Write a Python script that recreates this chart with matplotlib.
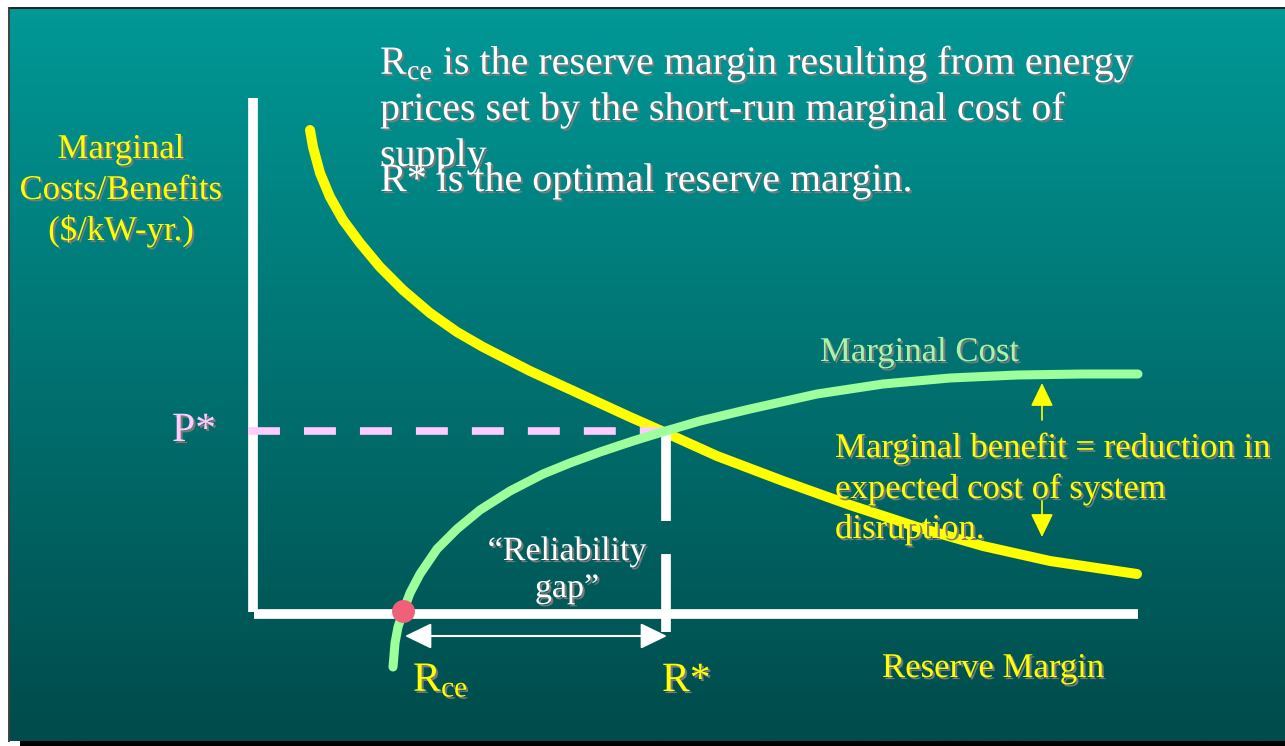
import numpy as np
import matplotlib.pyplot as plt
import matplotlib.patheffects as pe
from matplotlib.colors import LinearSegmentedColormap
from matplotlib.patches import Rectangle

plt.rcParams['font.family'] = ['Liberation Serif', 'DejaVu Serif']
plt.rcParams['mathtext.fontset'] = 'custom'
plt.rcParams['mathtext.rm'] = 'Liberation Serif'
plt.rcParams['mathtext.it'] = 'Liberation Serif:italic'
plt.rcParams['lines.scale_dashes'] = False

# chart units: reserve margin (x) and marginal cost/benefit (y), origin at the axes corner
benefit_x = [0.55, 0.58, 0.65, 0.75, 0.88, 1.05, 1.25, 1.48, 1.75, 2.02, 2.28,
             2.75, 3.25, 3.75, 4.09, 4.62, 5.28, 5.95, 6.62, 7.28, 7.95, 8.82]
benefit_y = [4.82, 4.65, 4.39, 4.15, 3.92, 3.69, 3.45, 3.22, 2.99, 2.80, 2.65,
             2.41, 2.18, 1.95, 1.80, 1.56, 1.31, 1.07, 0.85, 0.66, 0.51, 0.38]
cost_x = [1.38, 1.40, 1.43, 1.48, 1.55, 1.65, 1.82, 2.02, 2.25, 2.55, 2.88, 3.15,
          3.45, 3.78, 4.09, 4.45, 4.95, 5.62, 6.28, 6.95, 7.62, 8.28, 8.83]
cost_y = [-0.55, -0.31, -0.15, 0.00, 0.19, 0.38, 0.63, 0.83, 1.02, 1.21, 1.38, 1.49,
          1.60, 1.71, 1.805, 1.91, 2.03, 2.18, 2.28, 2.34, 2.37, 2.38, 2.38]
p_star = 1.81
r_star = 4.11
r_ce = 1.48
axis_top = 5.14
axis_right = 8.83

fig = plt.figure(figsize=(12.85, 7.46), dpi=100, facecolor='white')
ax = fig.add_axes([0, 0, 1, 1])
ax.set_axis_off()

# slide background with vertical gradient
bg = LinearSegmentedColormap.from_list('bg', ['#004b4b', '#009896'])
ax.imshow(np.linspace(0, 1, 256).reshape(-1, 1), cmap=bg, origin='lower',
          extent=[-2.46, 10.30, -1.29, 6.04], aspect='auto', zorder=0)
ax.plot([-2.46, 10.30], [6.045, 6.045], color='#202020', lw=1.4, zorder=1)
ax.plot([-2.455, -2.455], [-1.29, 6.04], color='#404040', lw=1.4, zorder=1)
ax.add_patch(Rectangle((-2.35, -1.345), 12.7, 0.055, color='black', lw=0, zorder=1))

# axes
ax.plot([-0.02, -0.02], [0, axis_top], color='white', lw=7, solid_capstyle='butt', zorder=2)
ax.plot([-0.01, axis_right], [-0.02, -0.02], color='white', lw=7, solid_capstyle='butt', zorder=2)

# curves
ax.plot(benefit_x, benefit_y, color='#FFFF00', lw=7.2, solid_capstyle='round',
        solid_joinstyle='round', zorder=3)
ax.plot([-0.07, 4.14], [p_star, p_star], color='#FFCCFF', lw=5.5, dashes=(23, 17.3),
        dash_capstyle='butt', zorder=4)
ax.plot(cost_x, cost_y, color='#9CFF9C', lw=6.5, solid_capstyle='round',
        solid_joinstyle='round', zorder=5)
ax.plot([r_star, r_star], [p_star, -0.20], color='white', lw=7, dashes=(64.8, 23.8),
        dash_capstyle='butt', zorder=4)
ax.plot(r_ce, 0.01, 'o', ms=16.5, color='#F0607A', mec='none', zorder=6)

# arrows
ax.annotate('', xy=(r_ce + 0.02, -0.24), xytext=(r_star + 0.01, -0.24),
            arrowprops=dict(arrowstyle='<|-|>,head_length=1.65,head_width=0.8',
                            mutation_scale=10, color='white', lw=1.5,
                            shrinkA=0, shrinkB=0), zorder=6)
ax.annotate('', xy=(7.87, 2.29), xytext=(7.87, 1.92),
            arrowprops=dict(arrowstyle='-|>,head_length=1.45,head_width=0.7',
                            mutation_scale=10, color='#FFFF00', lw=1.2,
                            shrinkA=0, shrinkB=0), zorder=6)
ax.annotate('', xy=(7.87, 0.75), xytext=(7.87, 1.12),
            arrowprops=dict(arrowstyle='-|>,head_length=1.45,head_width=0.7',
                            mutation_scale=10, color='#FFFF00', lw=1.2,
                            shrinkA=0, shrinkB=0), zorder=6)

shadow = [pe.withSimplePatchShadow(offset=(1.5, -1.5), shadow_rgbFace='#7a7a7a', alpha=1.0)]


def label(x, y, s, size, color, ha='left'):
    ax.text(x, y, s, fontsize=size, color=color, ha=ha, va='baseline',
            path_effects=shadow, zorder=7)


# top note
label(1.25, 5.38, r'R$_{\mathrm{ce}}$ is the reserve margin resulting from energy', 28.8, 'white')
label(1.25, 4.92, 'prices set by the short-run marginal cost of', 28.8, 'white')
label(1.25, 4.46, 'supply.', 28.8, 'white')
label(1.25, 4.21, 'R* is the optimal reserve margin.', 28.8, 'white')

# axis labels
label(-1.34, 4.54, 'Marginal', 25, '#FFFF00', ha='center')
label(-1.34, 4.13, 'Costs/Benefits', 25, '#FFFF00', ha='center')
label(-1.34, 3.72, '($/kW-yr.)', 25, '#FFFF00', ha='center')
label(6.27, -0.65, 'Reserve Margin', 25, '#FFFF00')
label(-0.83, 1.71, 'P*', 30, '#FFCCFF')
label(4.07, -0.79, 'R*', 30, '#FFFF00')
label(1.58, -0.79, r'R$_{\mathrm{ce}}$', 30, '#FFFF00')

# curve notes
label(5.65, 2.51, 'Marginal Cost', 25, '#A8F5A8')
label(5.80, 1.55, 'Marginal benefit = reduction in', 25, '#FFFF00')
label(5.80, 1.14, 'expected cost of system', 25, '#FFFF00')
label(5.80, 0.74, 'disruption.', 25, '#FFFF00')
label(3.12, 0.52, '\u201cReliability', 24.5, 'white', ha='center')
label(3.12, 0.15, 'gap\u201d', 24.5, 'white', ha='center')

ax.set_xlim(-2.55, 10.30)
ax.set_ylim(-1.34, 6.12)

fig.savefig('out.png', dpi=100, facecolor='white')
